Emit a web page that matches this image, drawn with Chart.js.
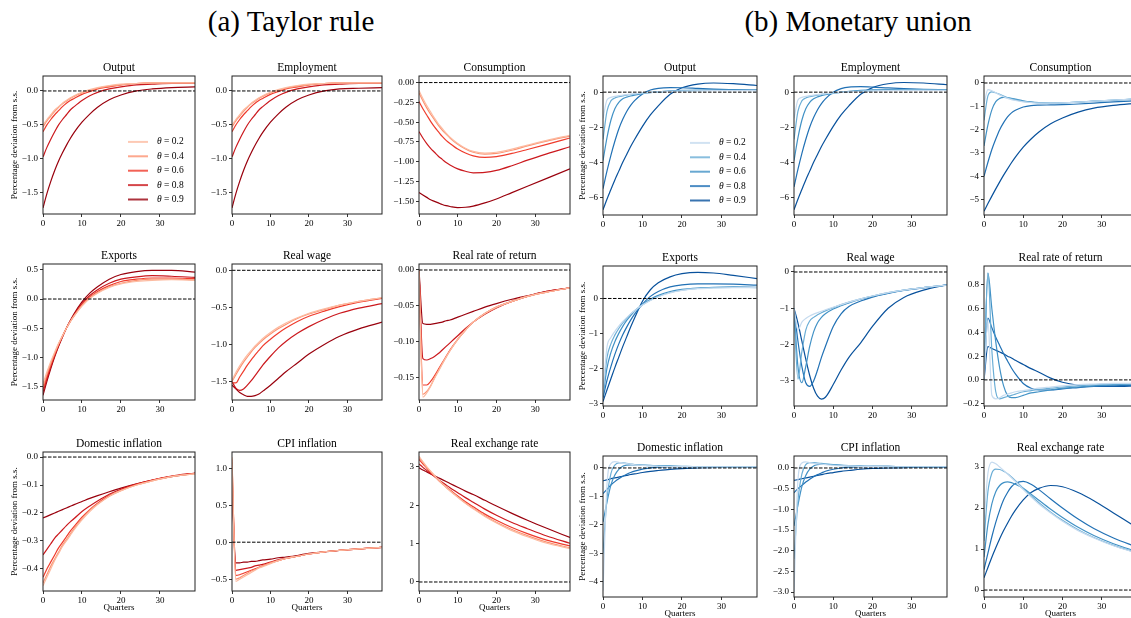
<!DOCTYPE html>
<html>
<head>
<meta charset="utf-8">
<script src="https://cdn.jsdelivr.net/npm/chart.js@4.4.0/dist/chart.umd.min.js"></script>
<style>
  html, body { margin: 0; padding: 0; background: #fff; overflow: hidden; }
  body { width: 1131px; height: 618px; position: relative; }
  .bigtitle { position: absolute; top: 5px; font: 29px "Liberation Serif", "Times New Roman", serif; line-height: 32px; transform: translateX(-50%); white-space: nowrap; color: #000; }
</style>
</head>
<body>
<div class="bigtitle" style="left:291px">(a) Taylor rule</div>
<div class="bigtitle" style="left:858px">(b) Monetary union</div>
<script>
const quarters = [0, 1, 2, 3, 4, 5, 6, 7, 8, 10, 12, 14, 17, 20, 24, 28, 33, 39];
const thetas = [0.2, 0.4, 0.6, 0.8, 0.9];
const xTicks = [0, 10, 20, 30];

// (a) Taylor rule, one row per theta
const taylorOutput = [
  [-0.50, -0.42, -0.35, -0.28, -0.23, -0.18, -0.14, -0.10, -0.07, -0.02, 0.02, 0.05, 0.08, 0.10, 0.11, 0.12, 0.12, 0.12],
  [-0.53, -0.44, -0.37, -0.30, -0.24, -0.19, -0.15, -0.11, -0.08, -0.03, 0.01, 0.04, 0.07, 0.09, 0.11, 0.12, 0.12, 0.12],
  [-0.60, -0.50, -0.42, -0.35, -0.29, -0.23, -0.18, -0.14, -0.11, -0.05, -0.01, 0.03, 0.06, 0.09, 0.11, 0.12, 0.12, 0.12],
  [-0.97, -0.83, -0.71, -0.60, -0.50, -0.42, -0.35, -0.28, -0.23, -0.14, -0.07, -0.02, 0.03, 0.06, 0.09, 0.10, 0.11, 0.11],
  [-1.72, -1.51, -1.33, -1.17, -1.03, -0.91, -0.80, -0.70, -0.61, -0.46, -0.34, -0.24, -0.13, -0.06, 0.00, 0.03, 0.05, 0.06]
];
const taylorEmployment = [
  [-0.50, -0.42, -0.35, -0.28, -0.23, -0.18, -0.14, -0.10, -0.07, -0.02, 0.02, 0.05, 0.08, 0.10, 0.11, 0.12, 0.12, 0.12],
  [-0.53, -0.44, -0.37, -0.30, -0.24, -0.19, -0.15, -0.11, -0.08, -0.03, 0.01, 0.04, 0.07, 0.09, 0.11, 0.12, 0.12, 0.12],
  [-0.60, -0.50, -0.42, -0.35, -0.29, -0.23, -0.18, -0.14, -0.11, -0.05, -0.01, 0.03, 0.06, 0.09, 0.11, 0.12, 0.12, 0.12],
  [-0.97, -0.83, -0.71, -0.60, -0.50, -0.42, -0.35, -0.28, -0.23, -0.14, -0.07, -0.02, 0.03, 0.06, 0.09, 0.10, 0.11, 0.11],
  [-1.72, -1.51, -1.33, -1.17, -1.03, -0.91, -0.80, -0.70, -0.61, -0.46, -0.34, -0.24, -0.13, -0.06, 0.00, 0.03, 0.04, 0.05]
];
const taylorConsumption = [
  [-0.10, -0.20, -0.29, -0.37, -0.45, -0.52, -0.58, -0.64, -0.69, -0.77, -0.83, -0.87, -0.89, -0.88, -0.84, -0.79, -0.73, -0.665],
  [-0.13, -0.23, -0.32, -0.40, -0.47, -0.54, -0.60, -0.65, -0.70, -0.78, -0.84, -0.88, -0.905, -0.895, -0.855, -0.80, -0.74, -0.675],
  [-0.24, -0.33, -0.41, -0.49, -0.56, -0.62, -0.68, -0.73, -0.77, -0.84, -0.89, -0.925, -0.945, -0.935, -0.895, -0.845, -0.78, -0.70],
  [-0.62, -0.70, -0.77, -0.83, -0.88, -0.93, -0.97, -1.01, -1.04, -1.09, -1.12, -1.14, -1.135, -1.11, -1.05, -0.98, -0.90, -0.81],
  [-1.39, -1.42, -1.45, -1.48, -1.50, -1.52, -1.54, -1.555, -1.565, -1.58, -1.575, -1.56, -1.52, -1.47, -1.39, -1.31, -1.21, -1.09]
];
const taylorExports = [
  [-1.45, -1.25, -1.07, -0.91, -0.76, -0.63, -0.50, -0.39, -0.29, -0.12, 0.01, 0.10, 0.20, 0.26, 0.30, 0.32, 0.33, 0.32],
  [-1.50, -1.29, -1.10, -0.93, -0.77, -0.63, -0.50, -0.39, -0.29, -0.11, 0.02, 0.11, 0.21, 0.27, 0.32, 0.34, 0.34, 0.33],
  [-1.55, -1.33, -1.13, -0.95, -0.78, -0.64, -0.50, -0.38, -0.28, -0.10, 0.03, 0.13, 0.23, 0.30, 0.34, 0.36, 0.36, 0.35],
  [-1.60, -1.37, -1.16, -0.97, -0.80, -0.64, -0.50, -0.38, -0.27, -0.08, 0.06, 0.16, 0.27, 0.34, 0.38, 0.40, 0.39, 0.37],
  [-1.65, -1.41, -1.19, -0.99, -0.81, -0.65, -0.50, -0.37, -0.25, -0.05, 0.10, 0.21, 0.34, 0.42, 0.47, 0.49, 0.49, 0.46]
];
const taylorRealWage = [
  [-1.48, -1.38, -1.29, -1.21, -1.14, -1.08, -1.02, -0.97, -0.92, -0.84, -0.77, -0.71, -0.64, -0.58, -0.52, -0.47, -0.42, -0.37],
  [-1.50, -1.41, -1.32, -1.24, -1.17, -1.10, -1.04, -0.99, -0.94, -0.86, -0.79, -0.73, -0.65, -0.59, -0.53, -0.47, -0.42, -0.37],
  [-1.52, -1.52, -1.44, -1.36, -1.28, -1.21, -1.14, -1.08, -1.02, -0.93, -0.85, -0.78, -0.69, -0.62, -0.55, -0.49, -0.43, -0.38],
  [-1.50, -1.59, -1.62, -1.60, -1.55, -1.49, -1.42, -1.35, -1.28, -1.16, -1.05, -0.96, -0.85, -0.76, -0.66, -0.58, -0.51, -0.45],
  [-1.55, -1.60, -1.65, -1.68, -1.70, -1.70, -1.69, -1.67, -1.63, -1.55, -1.46, -1.37, -1.25, -1.13, -1.00, -0.89, -0.79, -0.70]
];
const taylorRealRate = [
  [0, -0.178, -0.172, -0.163, -0.152, -0.142, -0.132, -0.122, -0.113, -0.097, -0.084, -0.073, -0.061, -0.052, -0.044, -0.037, -0.031, -0.025],
  [0, -0.174, -0.170, -0.162, -0.151, -0.141, -0.131, -0.122, -0.113, -0.097, -0.084, -0.073, -0.061, -0.052, -0.044, -0.037, -0.031, -0.025],
  [0, -0.161, -0.161, -0.156, -0.148, -0.139, -0.130, -0.121, -0.112, -0.097, -0.084, -0.073, -0.061, -0.052, -0.044, -0.037, -0.031, -0.025],
  [0, -0.124, -0.126, -0.124, -0.121, -0.117, -0.112, -0.107, -0.102, -0.092, -0.082, -0.073, -0.062, -0.053, -0.044, -0.037, -0.030, -0.025],
  [0, -0.075, -0.076, -0.076, -0.075, -0.074, -0.073, -0.071, -0.070, -0.066, -0.062, -0.058, -0.052, -0.047, -0.041, -0.036, -0.030, -0.025]
];
const taylorDomInfl = [
  [-0.46, -0.43, -0.40, -0.37, -0.345, -0.32, -0.30, -0.28, -0.26, -0.225, -0.195, -0.17, -0.14, -0.12, -0.10, -0.085, -0.07, -0.06],
  [-0.45, -0.42, -0.39, -0.365, -0.34, -0.315, -0.295, -0.275, -0.255, -0.22, -0.19, -0.168, -0.14, -0.12, -0.10, -0.085, -0.07, -0.06],
  [-0.43, -0.40, -0.375, -0.35, -0.325, -0.305, -0.285, -0.265, -0.248, -0.215, -0.188, -0.165, -0.138, -0.118, -0.098, -0.083, -0.069, -0.058],
  [-0.35, -0.33, -0.31, -0.29, -0.275, -0.26, -0.245, -0.232, -0.22, -0.195, -0.175, -0.157, -0.133, -0.115, -0.097, -0.082, -0.068, -0.057],
  [-0.218, -0.212, -0.206, -0.200, -0.194, -0.188, -0.182, -0.176, -0.170, -0.159, -0.148, -0.138, -0.124, -0.111, -0.096, -0.083, -0.070, -0.058]
];
const taylorCpiInfl = [
  [1.15, -0.53, -0.50, -0.47, -0.44, -0.41, -0.38, -0.35, -0.33, -0.29, -0.25, -0.22, -0.19, -0.16, -0.13, -0.11, -0.09, -0.07],
  [1.12, -0.50, -0.48, -0.45, -0.42, -0.39, -0.37, -0.34, -0.32, -0.28, -0.25, -0.22, -0.19, -0.16, -0.13, -0.11, -0.09, -0.07],
  [1.08, -0.45, -0.44, -0.42, -0.40, -0.38, -0.36, -0.34, -0.32, -0.28, -0.25, -0.22, -0.19, -0.16, -0.13, -0.11, -0.09, -0.07],
  [0.95, -0.38, -0.37, -0.36, -0.35, -0.34, -0.32, -0.31, -0.30, -0.27, -0.24, -0.22, -0.19, -0.16, -0.13, -0.11, -0.09, -0.07],
  [0.75, -0.28, -0.28, -0.27, -0.27, -0.26, -0.26, -0.25, -0.24, -0.23, -0.21, -0.20, -0.18, -0.15, -0.13, -0.11, -0.09, -0.07]
];
const taylorRer = [
  [3.28, 3.14, 3.01, 2.89, 2.78, 2.67, 2.57, 2.47, 2.38, 2.21, 2.05, 1.91, 1.71, 1.54, 1.34, 1.18, 1.01, 0.87],
  [3.25, 3.12, 2.99, 2.88, 2.77, 2.66, 2.56, 2.47, 2.38, 2.22, 2.06, 1.92, 1.73, 1.56, 1.37, 1.21, 1.04, 0.89],
  [3.20, 3.08, 2.97, 2.86, 2.76, 2.66, 2.57, 2.48, 2.40, 2.24, 2.09, 1.96, 1.77, 1.61, 1.42, 1.26, 1.09, 0.94],
  [3.08, 2.99, 2.91, 2.83, 2.75, 2.67, 2.60, 2.53, 2.46, 2.33, 2.20, 2.08, 1.90, 1.74, 1.55, 1.39, 1.20, 1.01],
  [2.98, 2.92, 2.87, 2.82, 2.77, 2.72, 2.67, 2.62, 2.57, 2.47, 2.37, 2.28, 2.13, 1.98, 1.79, 1.61, 1.40, 1.16]
];

// (b) Monetary union, one row per theta
const unionOutput = [
  [-1.5, -0.45, -0.30, -0.24, -0.20, -0.17, -0.14, -0.11, -0.09, -0.05, -0.02, 0.01, 0.04, 0.06, 0.08, 0.09, 0.09, 0.09],
  [-2.7, -1.1, -0.50, -0.33, -0.26, -0.21, -0.17, -0.14, -0.11, -0.06, -0.02, 0.01, 0.05, 0.07, 0.09, 0.10, 0.10, 0.09],
  [-3.9, -2.6, -1.6, -0.95, -0.58, -0.38, -0.28, -0.22, -0.17, -0.09, -0.03, 0.02, 0.07, 0.10, 0.12, 0.12, 0.12, 0.11],
  [-5.5, -4.5, -3.6, -2.8, -2.1, -1.55, -1.1, -0.75, -0.48, -0.10, 0.12, 0.22, 0.26, 0.25, 0.21, 0.17, 0.14, 0.11],
  [-6.7, -6.1, -5.55, -5.0, -4.5, -4.0, -3.55, -3.1, -2.7, -1.95, -1.3, -0.78, -0.12, 0.25, 0.46, 0.52, 0.48, 0.38]
];
const unionEmployment = [
  [-1.5, -0.45, -0.30, -0.24, -0.20, -0.17, -0.14, -0.11, -0.09, -0.05, -0.01, 0.02, 0.05, 0.07, 0.09, 0.10, 0.10, 0.10],
  [-2.7, -1.1, -0.50, -0.33, -0.26, -0.21, -0.17, -0.13, -0.10, -0.05, -0.01, 0.03, 0.06, 0.09, 0.11, 0.11, 0.11, 0.10],
  [-3.9, -2.6, -1.6, -0.95, -0.58, -0.38, -0.27, -0.20, -0.15, -0.07, 0.00, 0.05, 0.10, 0.13, 0.15, 0.15, 0.14, 0.13],
  [-5.4, -4.4, -3.5, -2.7, -2.0, -1.45, -1.0, -0.65, -0.38, 0.0, 0.20, 0.29, 0.31, 0.29, 0.24, 0.20, 0.16, 0.13],
  [-6.7, -6.1, -5.55, -5.0, -4.5, -4.0, -3.55, -3.1, -2.7, -1.95, -1.3, -0.78, -0.12, 0.26, 0.48, 0.55, 0.52, 0.42]
];
const unionConsumption = [
  [-0.9, -0.28, -0.33, -0.42, -0.51, -0.59, -0.66, -0.71, -0.75, -0.81, -0.84, -0.86, -0.86, -0.85, -0.82, -0.78, -0.73, -0.68],
  [-1.6, -0.55, -0.38, -0.42, -0.49, -0.56, -0.63, -0.68, -0.72, -0.79, -0.83, -0.85, -0.86, -0.85, -0.82, -0.78, -0.73, -0.68],
  [-2.7, -1.8, -1.15, -0.80, -0.66, -0.62, -0.63, -0.66, -0.69, -0.76, -0.81, -0.84, -0.86, -0.85, -0.82, -0.78, -0.74, -0.69],
  [-4.0, -3.4, -2.85, -2.4, -2.0, -1.7, -1.45, -1.28, -1.17, -1.03, -0.97, -0.95, -0.94, -0.93, -0.90, -0.86, -0.81, -0.76],
  [-5.5, -5.17, -4.85, -4.54, -4.24, -3.95, -3.68, -3.42, -3.18, -2.75, -2.4, -2.1, -1.75, -1.5, -1.25, -1.08, -0.96, -0.87]
];
const unionExports = [
  [-2.7, -1.4, -1.12, -0.94, -0.79, -0.66, -0.55, -0.44, -0.35, -0.19, -0.06, 0.05, 0.16, 0.23, 0.28, 0.30, 0.31, 0.31],
  [-2.75, -1.7, -1.3, -1.05, -0.86, -0.70, -0.57, -0.45, -0.35, -0.18, -0.05, 0.06, 0.17, 0.24, 0.29, 0.31, 0.32, 0.31],
  [-2.8, -2.0, -1.55, -1.24, -1.00, -0.80, -0.63, -0.49, -0.37, -0.17, -0.02, 0.09, 0.20, 0.26, 0.30, 0.32, 0.33, 0.32],
  [-2.85, -2.35, -1.95, -1.60, -1.30, -1.04, -0.82, -0.62, -0.45, -0.16, 0.06, 0.20, 0.33, 0.39, 0.42, 0.42, 0.41, 0.38],
  [-2.95, -2.62, -2.30, -1.98, -1.68, -1.38, -1.10, -0.82, -0.56, -0.08, 0.25, 0.45, 0.62, 0.71, 0.75, 0.73, 0.66, 0.57]
];
const unionRealWage = [
  [-1.0, -1.6, -1.38, -1.28, -1.21, -1.16, -1.12, -1.08, -1.04, -0.97, -0.90, -0.83, -0.74, -0.66, -0.57, -0.50, -0.43, -0.36],
  [-1.0, -2.95, -2.2, -1.6, -1.35, -1.25, -1.18, -1.12, -1.07, -0.98, -0.90, -0.83, -0.74, -0.66, -0.57, -0.50, -0.43, -0.36],
  [-1.0, -2.6, -3.05, -2.6, -2.05, -1.65, -1.40, -1.25, -1.15, -1.02, -0.93, -0.85, -0.75, -0.67, -0.58, -0.50, -0.43, -0.36],
  [-1.0, -1.9, -2.6, -3.05, -3.15, -3.0, -2.7, -2.35, -2.05, -1.5, -1.15, -0.95, -0.80, -0.69, -0.59, -0.51, -0.44, -0.36],
  [-1.0, -1.4, -1.9, -2.4, -2.85, -3.2, -3.42, -3.5, -3.45, -3.1, -2.7, -2.35, -1.95, -1.5, -1.0, -0.7, -0.5, -0.35]
];
const unionRealRate = [
  [0, 0.5, -0.13, -0.16, -0.15, -0.13, -0.12, -0.11, -0.10, -0.09, -0.08, -0.07, -0.06, -0.05, -0.04, -0.035, -0.03, -0.03],
  [0, 0.9, 0.25, -0.10, -0.16, -0.15, -0.14, -0.13, -0.12, -0.10, -0.09, -0.08, -0.07, -0.06, -0.05, -0.04, -0.035, -0.03],
  [0, 0.9, 0.6, 0.32, 0.10, -0.05, -0.13, -0.15, -0.15, -0.13, -0.11, -0.10, -0.085, -0.07, -0.06, -0.05, -0.04, -0.035],
  [0, 0.52, 0.44, 0.36, 0.29, 0.22, 0.16, 0.10, 0.05, -0.03, -0.07, -0.085, -0.085, -0.075, -0.065, -0.055, -0.05, -0.045],
  [0, 0.28, 0.265, 0.25, 0.235, 0.22, 0.20, 0.185, 0.165, 0.13, 0.095, 0.065, 0.015, -0.02, -0.045, -0.055, -0.055, -0.05]
];
const unionDomInfl = [
  [-4.3, -0.6, 0.15, 0.22, 0.20, 0.17, 0.15, 0.13, 0.11, 0.09, 0.07, 0.06, 0.05, 0.05, 0.04, 0.04, 0.04, 0.04],
  [-3.0, -1.1, -0.2, 0.10, 0.18, 0.18, 0.16, 0.14, 0.12, 0.10, 0.08, 0.07, 0.06, 0.05, 0.05, 0.04, 0.04, 0.04],
  [-1.9, -1.2, -0.6, -0.25, -0.05, 0.06, 0.10, 0.11, 0.11, 0.10, 0.09, 0.08, 0.07, 0.06, 0.05, 0.05, 0.04, 0.04],
  [-0.9, -0.75, -0.6, -0.48, -0.38, -0.29, -0.22, -0.16, -0.11, -0.04, 0.0, 0.03, 0.05, 0.05, 0.05, 0.05, 0.04, 0.04],
  [-0.45, -0.42, -0.38, -0.35, -0.32, -0.29, -0.26, -0.23, -0.21, -0.16, -0.12, -0.09, -0.05, -0.02, 0.0, 0.02, 0.03, 0.03]
];
const unionCpiInfl = [
  [-3.0, -0.3, 0.12, 0.15, 0.13, 0.11, 0.10, 0.09, 0.08, 0.06, 0.05, 0.05, 0.04, 0.04, 0.03, 0.03, 0.03, 0.03],
  [-2.2, -0.8, -0.15, 0.08, 0.13, 0.13, 0.12, 0.11, 0.10, 0.08, 0.06, 0.05, 0.04, 0.04, 0.03, 0.03, 0.03, 0.03],
  [-1.4, -0.9, -0.45, -0.18, -0.03, 0.05, 0.08, 0.09, 0.09, 0.08, 0.07, 0.06, 0.05, 0.04, 0.04, 0.03, 0.03, 0.03],
  [-0.6, -0.5, -0.42, -0.34, -0.27, -0.21, -0.16, -0.12, -0.08, -0.03, 0.0, 0.02, 0.03, 0.04, 0.04, 0.03, 0.03, 0.03],
  [-0.3, -0.28, -0.26, -0.24, -0.22, -0.20, -0.18, -0.16, -0.14, -0.11, -0.08, -0.06, -0.03, -0.01, 0.0, 0.01, 0.02, 0.02]
];
const unionRer = [
  [1.7, 2.85, 3.12, 3.08, 3.0, 2.92, 2.83, 2.74, 2.65, 2.45, 2.27, 2.1, 1.88, 1.68, 1.45, 1.27, 1.08, 0.90],
  [1.2, 2.4, 2.85, 2.95, 2.94, 2.9, 2.84, 2.76, 2.67, 2.48, 2.3, 2.13, 1.9, 1.7, 1.47, 1.28, 1.09, 0.91],
  [0.8, 1.6, 2.1, 2.4, 2.55, 2.62, 2.64, 2.62, 2.58, 2.48, 2.34, 2.19, 1.97, 1.77, 1.53, 1.33, 1.13, 0.94],
  [0.5, 0.9, 1.3, 1.65, 1.95, 2.2, 2.38, 2.52, 2.6, 2.65, 2.58, 2.45, 2.22, 2.0, 1.73, 1.5, 1.27, 1.05],
  [0.3, 0.55, 0.8, 1.03, 1.25, 1.45, 1.63, 1.8, 1.95, 2.2, 2.38, 2.48, 2.55, 2.52, 2.38, 2.18, 1.88, 1.52]
];

// y tick labels
const ticksHalf = [-1.5, -1, -0.5, 0];
const ticksQuarter = [-1.5, -1.25, -1, -0.75, -0.5, -0.25, 0];
const ticksExportsA = [-1.5, -1, -0.5, 0, 0.5];
const ticksRateA = [-0.15, -0.1, -0.05, 0];
const ticksDomA = [-0.4, -0.3, -0.2, -0.1, 0];
const ticksCpiA = [-0.5, 0, 0.5, 1];
const ticksRer = [0, 1, 2, 3];
const ticksOutputB = [-6, -4, -2, 0];
const ticksConsB = [-5, -4, -3, -2, -1, 0];
const ticksExportsB = [-3, -2, -1, 0];
const ticksWageB = [-3, -2, -1, 0];
const ticksRateB = [-0.2, 0, 0.2, 0.4, 0.6, 0.8];
const ticksDomB = [-4, -3, -2, -1, 0];
const ticksCpiB = [-3, -2.5, -2, -1.5, -1, -0.5, 0];

const reds = ['#fcbba1', '#fc9272', '#ef3b2c', '#cb181d', '#99000d'];
const blues = ['#c6dbef', '#6baed6', '#4292c6', '#2171b5', '#08519c'];
const SERIF = '"Liberation Serif", "Times New Roman", serif';

const colA = [[43, 195], [232, 382], [419, 570]];
const colB = [[603, 757], [794, 947], [984, 1137]];
const rowsA = [[76, 214], [264, 400], [452, 591]];
const rowsB = [[76, 215], [266, 406], [456, 597]];

const panels = [
  { t: 'Output', d: taylorOutput, c: reds, col: colA[0], row: rowsA[0], y: [-1.81, 0.22], ticks: ticksHalf, dec: 1, ylab: 43, legend: true },
  { t: 'Employment', d: taylorEmployment, c: reds, col: colA[1], row: rowsA[0], y: [-1.81, 0.22], ticks: ticksHalf, dec: 1 },
  { t: 'Consumption', d: taylorConsumption, c: reds, col: colA[2], row: rowsA[0], y: [-1.66, 0.083], ticks: ticksQuarter, dec: 2 },
  { t: 'Output', d: unionOutput, c: blues, col: colB[0], row: rowsB[0], y: [-7.0, 0.92], ticks: ticksOutputB, dec: 0, ylab: 35, legend: true },
  { t: 'Employment', d: unionEmployment, c: blues, col: colB[1], row: rowsB[0], y: [-7.0, 0.92], ticks: ticksOutputB, dec: 0 },
  { t: 'Consumption', d: unionConsumption, c: blues, col: colB[2], row: rowsB[0], y: [-5.66, 0.3], ticks: ticksConsB, dec: 0 },
  { t: 'Exports', d: taylorExports, c: reds, col: colA[0], row: rowsA[1], y: [-1.73, 0.6], ticks: ticksExportsA, dec: 1, ylab: 43 },
  { t: 'Real wage', d: taylorRealWage, c: reds, col: colA[1], row: rowsA[1], y: [-1.75, 0.085], ticks: ticksHalf, dec: 1 },
  { t: 'Real rate of return', d: taylorRealRate, c: reds, col: colA[2], row: rowsA[1], y: [-0.182, 0.0084], ticks: ticksRateA, dec: 2 },
  { t: 'Exports', d: unionExports, c: blues, col: colB[0], row: rowsB[1], y: [-3.08, 0.93], ticks: ticksExportsB, dec: 0, ylab: 35 },
  { t: 'Real wage', d: unionRealWage, c: blues, col: colB[1], row: rowsB[1], y: [-3.69, 0.165], ticks: ticksWageB, dec: 0 },
  { t: 'Real rate of return', d: unionRealRate, c: blues, col: colB[2], row: rowsB[1], y: [-0.22, 0.96], ticks: ticksRateB, dec: 1 },
  { t: 'Domestic inflation', d: taylorDomInfl, c: reds, col: colA[0], row: rowsA[2], y: [-0.479, 0.018], ticks: ticksDomA, dec: 1, ylab: 43, xlab: true },
  { t: 'CPI inflation', d: taylorCpiInfl, c: reds, col: colA[1], row: rowsA[2], y: [-0.66, 1.22], ticks: ticksCpiA, dec: 1, xlab: true },
  { t: 'Real exchange rate', d: taylorRer, c: reds, col: colA[2], row: rowsA[2], y: [-0.235, 3.39], ticks: ticksRer, dec: 0, xlab: true },
  { t: 'Domestic inflation', d: unionDomInfl, c: blues, col: colB[0], row: rowsB[2], y: [-4.53, 0.42], ticks: ticksDomB, dec: 0, ylab: 35, xlab: true },
  { t: 'CPI inflation', d: unionCpiInfl, c: blues, col: colB[1], row: rowsB[2], y: [-3.12, 0.29], ticks: ticksCpiB, dec: 1, xlab: true },
  { t: 'Real exchange rate', d: unionRer, c: blues, col: colB[2], row: rowsB[2], y: [-0.17, 3.27], ticks: ticksRer, dec: 0, xlab: true }
];

function fmt(v, dec) {
  const s = Math.abs(v).toFixed(dec);
  return (v < -1e-9 ? '\u2212' : '') + s;
}

// frame, zero line and the theta legend
const framePlugin = {
  id: 'frame',
  afterDatasetsDraw(chart) {
    const { ctx, chartArea: a, scales: { y } } = chart;
    ctx.save();
    const y0 = y.getPixelForValue(0);
    ctx.strokeStyle = '#000';
    ctx.lineWidth = 1;
    ctx.setLineDash([3.5, 1.5]);
    ctx.beginPath();
    ctx.moveTo(a.left, y0);
    ctx.lineTo(a.right, y0);
    ctx.stroke();
    ctx.setLineDash([]);
    ctx.strokeStyle = '#222';
    ctx.strokeRect(a.left, a.top, a.right - a.left, a.bottom - a.top);
    ctx.restore();
  }
};
const thetaLegend = {
  id: 'thetaLegend',
  afterDraw(chart, args, opts) {
    if (!opts.show) return;
    const { ctx, chartArea: a } = chart;
    const ds = chart.data.datasets;
    ctx.save();
    ds.forEach((d, i) => {
      const yy = a.bottom - 14.5 - (ds.length - 1 - i) * 14.4;
      const tx = a.right - 38;
      ctx.globalAlpha = 0.8;
      ctx.strokeStyle = d.borderColor;
      ctx.lineWidth = 2;
      ctx.beginPath();
      ctx.moveTo(tx - 29, yy);
      ctx.lineTo(tx - 9, yy);
      ctx.stroke();
      ctx.globalAlpha = 1;
      ctx.fillStyle = '#000';
      ctx.textBaseline = 'middle';
      ctx.font = 'italic 9.5px ' + SERIF;
      ctx.fillText('\u03b8', tx, yy);
      const w = ctx.measureText('\u03b8').width;
      ctx.font = '9.5px ' + SERIF;
      ctx.fillText(' = ' + thetas[i].toFixed(1), tx + w, yy);
    });
    ctx.restore();
  }
};

const TH = 15, RP = 4, XH = 26;
panels.forEach(p => {
  const [L, R] = p.col;
  const [T, B] = p.row;
  const yw = p.ylab || 40;
  const w = R - L + yw + RP, h = B - T + TH + XH;
  const div = document.createElement('div');
  div.style.cssText = `position:absolute;left:${L - yw}px;top:${T - TH}px;width:${w}px;height:${h}px`;
  const cv = document.createElement('canvas');
  cv.width = w; cv.height = h;
  cv.style.width = w + 'px'; cv.style.height = h + 'px';
  div.appendChild(cv);
  document.body.appendChild(div);

  const datasets = p.d.map((vals, i) => ({
    label: '\u03b8 = ' + thetas[i],
    data: vals.map((v, k) => ({ x: quarters[k], y: v })),
    borderColor: p.c[i],
    borderWidth: 1.2,
    pointRadius: 0,
    fill: false,
    cubicInterpolationMode: 'monotone'
  }));

  new Chart(cv, {
    type: 'line',
    data: { datasets },
    options: {
      responsive: false,
      animation: false,
      events: [],
      layout: { padding: { left: 0, right: RP, top: 0, bottom: 0 } },
      plugins: {
        legend: { display: false },
        tooltip: { enabled: false },
        title: {
          display: true, text: p.t, color: '#000', fullSize: false,
          font: { family: SERIF, size: 11.5, weight: 'normal', lineHeight: '14px' },
          padding: { top: 0, bottom: 1 }
        },
        thetaLegend: { show: !!p.legend }
      },
      scales: {
        x: {
          type: 'linear', min: 0, max: 39,
          afterFit: s => { s.height = XH; },
          afterBuildTicks: s => { s.ticks = xTicks.map(v => ({ value: v })); },
          ticks: { color: '#000', font: { family: SERIF, size: 9 }, padding: 1, maxRotation: 0, callback: v => String(v) },
          grid: { drawOnChartArea: false, drawTicks: true, tickLength: 3, tickColor: '#000', tickWidth: 0.8 },
          border: { display: false },
          title: {
            display: !!p.xlab, text: 'Quarters', color: '#000',
            font: { family: SERIF, size: 9 }, padding: { top: 0, bottom: 3.6 }
          }
        },
        y: {
          type: 'linear', min: p.y[0], max: p.y[1],
          afterFit: s => { s.width = yw; },
          afterBuildTicks: s => { s.ticks = p.ticks.map(v => ({ value: v })); },
          ticks: { color: '#000', font: { family: SERIF, size: 9 }, padding: 2, callback: v => fmt(v, p.dec) },
          grid: { drawOnChartArea: false, drawTicks: true, tickLength: 3, tickColor: '#000', tickWidth: 0.8 },
          border: { display: false },
          title: {
            display: !!p.ylab, text: 'Percentage deviation from s.s.', color: '#000',
            font: { family: SERIF, size: 9 }, padding: { top: 9.6, bottom: 0 }
          }
        }
      }
    },
    plugins: [framePlugin, thetaLegend]
  });
});
</script>
</body>
</html>
